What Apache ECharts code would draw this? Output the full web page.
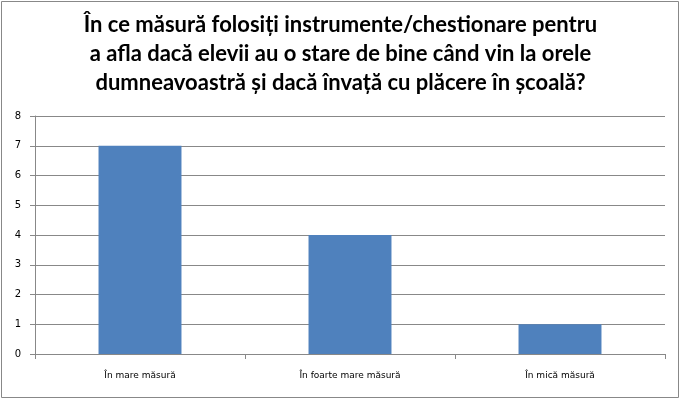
<!DOCTYPE html>
<html><head><meta charset="utf-8">
<script src="https://cdn.jsdelivr.net/npm/echarts@6/dist/echarts.min.js"></script>
<style>html,body{margin:0;padding:0;background:#fff}#c{width:681px;height:400px}</style>
</head><body><div id="c"></div>
<script>
const titleText = "În ce măsură folosiți instrumente/chestionare pentru\na afla dacă elevii au o stare de bine când vin la orele\ndumneavoastră și dacă învață cu plăcere în școală?";
const categories = ["În mare măsură", "În foarte mare măsură", "În mică măsură"];
const values = [7, 4, 1];
const yTicks = {min: 0, max: 8, interval: 1};

const chart = echarts.init(document.getElementById('c'), null, {renderer: 'canvas'});
chart.setOption({
  animation: false,
  backgroundColor: '#fff',
  graphic: [{type: 'rect', shape: {x: 1.5, y: 1.5, width: 677, height: 396}, style: {fill: 'none', stroke: '#888', lineWidth: 1}}],
  title: {
    text: titleText, left: 'center', top: 5,
    textStyle: {fontFamily: 'Lato', fontWeight: 'bold', fontSize: 22, lineHeight: 29, color: '#000'}
  },
  grid: {left: 35, right: 16, top: 116, bottom: 46},
  xAxis: {
    type: 'category', data: categories,
    axisLine: {lineStyle: {color: '#888'}},
    axisTick: {show: true, length: 5, lineStyle: {color: '#888'}},
    axisLabel: {fontFamily: 'DejaVu Sans', fontSize: 9, color: '#000', margin: 17}
  },
  yAxis: {
    type: 'value', min: yTicks.min, max: yTicks.max, interval: yTicks.interval,
    axisLine: {show: true, lineStyle: {color: '#888'}},
    axisTick: {show: true, length: 5, lineStyle: {color: '#888'}},
    splitLine: {lineStyle: {color: '#888'}},
    axisLabel: {fontFamily: 'DejaVu Sans', fontSize: 10, color: '#000', margin: 14}
  },
  series: [{type: 'bar', data: values, barWidth: '39.5%', itemStyle: {color: '#4F81BD'}}]
});
</script></body></html>
